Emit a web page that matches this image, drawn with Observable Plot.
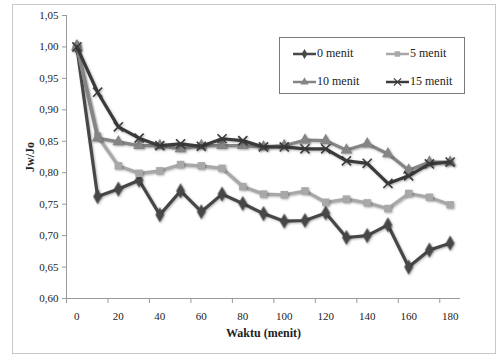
<!DOCTYPE html>
<html>
<head>
<meta charset="utf-8">
<script src="https://cdn.jsdelivr.net/npm/d3@7"></script>
<script src="https://cdn.jsdelivr.net/npm/@observablehq/plot@0.6"></script>
<style>
  html, body { margin: 0; padding: 0; background: #fff; }
  #wrap { position: relative; width: 500px; height: 360px; overflow: hidden; }
  #frame { position: absolute; left: 12px; top: 4px; width: 484px; height: 350px; border: 1px solid #c8c8c8; box-sizing: border-box; pointer-events: none; }
  #legend { position: absolute; left: 279px; top: 37px; width: 186px; height: 57px; border: 1px solid #7a7a7a; box-sizing: border-box; background: #fff; }
  .item { position: absolute; display: flex; align-items: center; font-size: 12px; color: #222; white-space: nowrap; }
  .item svg { display: block; margin-right: 1px; }
</style>
</head>
<body>
<div id="wrap">
  <div id="chart"></div>
  <div id="frame"></div>
  <div id="legend"></div>
</div>
<script>
const minutes = [0, 10, 20, 30, 40, 50, 60, 70, 80, 90, 100, 110, 120, 130, 140, 150, 160, 170, 180];
const seriesNames = ["0 menit", "5 menit", "10 menit", "15 menit"];
const s0  = [1.000, 0.762, 0.774, 0.788, 0.733, 0.771, 0.738, 0.766, 0.751, 0.735, 0.723, 0.724, 0.736, 0.697, 0.700, 0.717, 0.650, 0.677, 0.688];
const s5  = [1.000, 0.858, 0.811, 0.799, 0.803, 0.813, 0.811, 0.807, 0.778, 0.766, 0.765, 0.771, 0.753, 0.758, 0.752, 0.743, 0.767, 0.761, 0.749];
const s10 = [1.000, 0.855, 0.849, 0.843, 0.843, 0.838, 0.843, 0.843, 0.843, 0.841, 0.843, 0.852, 0.851, 0.836, 0.846, 0.830, 0.804, 0.817, 0.817];
const s15 = [1.000, 0.928, 0.873, 0.855, 0.843, 0.846, 0.842, 0.854, 0.851, 0.841, 0.841, 0.838, 0.838, 0.819, 0.815, 0.783, 0.795, 0.814, 0.817];
const xTickLabels = [0, 20, 40, 60, 80, 100, 120, 140, 160, 180];
const xTickMarks = [-5, 15, 35, 55, 75, 95, 115, 135, 155, 175];
const yTicks = [0.60, 0.65, 0.70, 0.75, 0.80, 0.85, 0.90, 0.95, 1.00, 1.05];

const colors = ["#474747", "#a8a8a8", "#858585", "#3b3b3b"];
const symbols = ["diamond", "square", "triangle", "times"];
const d3symbols = [d3.symbolDiamond, d3.symbolSquare, d3.symbolTriangle, d3.symbolTimes];
const radii = [4.6, 4.2, 4.4, 4.2];
const allValues = [s0, s5, s10, s15];

// pick an installed Times-like font
function fontAvailable(name) {
  const c = document.createElement("canvas").getContext("2d");
  const sample = "Waktu menit 0123456789 Jw/Jo";
  return ["monospace", "sans-serif"].some(base => {
    c.font = "16px " + base;
    const w0 = c.measureText(sample).width;
    c.font = "16px '" + name + "', " + base;
    return Math.abs(c.measureText(sample).width - w0) > 0.5;
  });
}
const candidates = ["Liberation Serif", "Times New Roman", "Tinos", "Times", "Nimbus Roman", "Noto Serif", "DejaVu Serif"];
const chosen = candidates.find(fontAvailable) || "serif";
const fontStack = "'" + chosen + "', serif";
document.getElementById("wrap").style.fontFamily = fontStack;

const marks = [
  Plot.ruleX([-5], {stroke: "#9a9a9a"}),
  Plot.ruleY([0.6], {stroke: "#9a9a9a"}),
  Plot.axisY({ticks: yTicks, tickFormat: d => d.toFixed(2).replace(".", ","), tickSize: 4, tickPadding: 4, stroke: "#9a9a9a", fill: "#222", label: null}),
  Plot.axisX({ticks: xTickMarks, tickSize: 5, tickFormat: () => "", stroke: "#9a9a9a", label: null}),
  Plot.axisX({ticks: xTickLabels, tickSize: 0, tickPadding: 14, fill: "#222", label: null}),
  Plot.text(["Jw/Jo"], {frameAnchor: "left", dx: -36, dy: 15, rotate: -90, fontWeight: "bold", fontSize: 12, fill: "#222"}),
  Plot.text(["Waktu (menit)"], {frameAnchor: "bottom", dy: 38, fontWeight: "bold", fontSize: 12, fill: "#222"})
];

allValues.forEach((vals, i) => {
  const rows = minutes.map((m, j) => ({x: m, y: vals[j]}));
  marks.push(Plot.line(rows, {x: "x", y: "y", stroke: colors[i], strokeWidth: 3.2}));
  if (symbols[i] === "times") {
    marks.push(Plot.dot(rows, {x: "x", y: "y", symbol: symbols[i], r: radii[i], stroke: colors[i], strokeWidth: 1.6, fill: "none"}));
  } else {
    marks.push(Plot.dot(rows, {x: "x", y: "y", symbol: symbols[i], r: radii[i], fill: colors[i], stroke: "none"}));
  }
});

const chart = Plot.plot({
  width: 500,
  height: 360,
  marginLeft: 66,
  marginRight: 40,
  marginTop: 15,
  marginBottom: 62,
  x: {domain: [-5, 185]},
  y: {domain: [0.6, 1.05]},
  style: {fontFamily: fontStack, fontSize: "11px", background: "transparent", overflow: "visible"},
  marks
});
document.getElementById("chart").appendChild(chart);
chart.querySelectorAll('g[aria-label="line"], g[aria-label="dot"]').forEach(g => {
  g.style.filter = "drop-shadow(1.5px 1.5px 1px rgba(0,0,0,0.3))";
});

// legend
const legend = document.getElementById("legend");
const pos = [[13, 8], [106, 8], [13, 36], [106, 36]];
seriesNames.forEach((name, i) => {
  const item = document.createElement("div");
  item.className = "item";
  item.style.left = pos[i][0] + "px";
  item.style.top = pos[i][1] + "px";
  const svg = d3.create("svg").attr("width", 23).attr("height", 12);
  svg.append("line").attr("x1", 0).attr("x2", 23).attr("y1", 6).attr("y2", 6)
    .attr("stroke", colors[i]).attr("stroke-width", 2.5);
  const sym = d3.symbol(d3symbols[i], i === 3 ? 36 : 30)();
  const p = svg.append("path").attr("d", sym).attr("transform", "translate(11.5,6)");
  if (i === 3) p.attr("stroke", colors[i]).attr("stroke-width", 1.2).attr("fill", "none");
  else p.attr("fill", colors[i]);
  item.appendChild(svg.node());
  const span = document.createElement("span");
  span.textContent = name;
  item.appendChild(span);
  legend.appendChild(item);
});
</script>
</body>
</html>
